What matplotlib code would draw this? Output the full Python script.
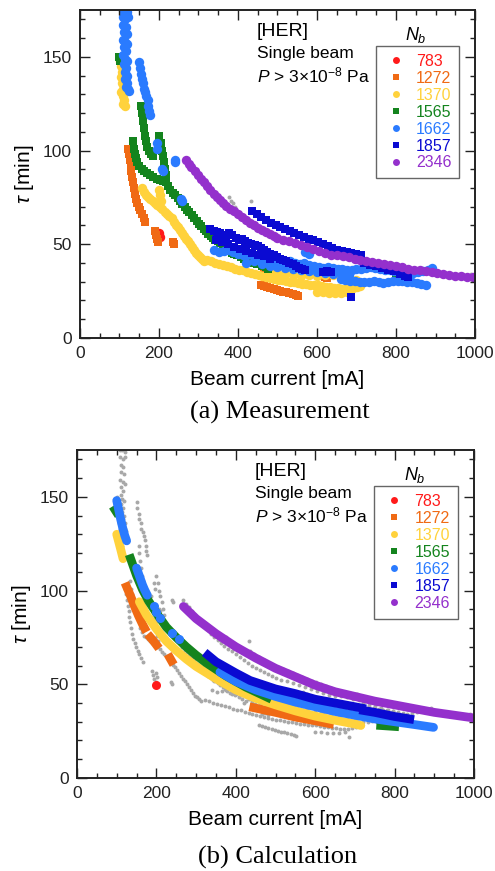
import numpy as np
import matplotlib.pyplot as plt
from matplotlib.lines import Line2D
from matplotlib.ticker import MultipleLocator

plt.rcParams['font.family'] = ['Liberation Sans', 'DejaVu Sans']
plt.rcParams['mathtext.fontset'] = 'custom'
plt.rcParams['mathtext.rm'] = 'Liberation Sans'
plt.rcParams['mathtext.it'] = 'Liberation Sans:italic'

bunches = ['783', '1272', '1370', '1565', '1662', '1857', '2346']
colors = ['#ff1a1a', '#f06a14', '#ffd23c', '#14841e', '#2a7bff', '#0a0ad2', '#9430cc']
markers = ['o', 's', 'o', 's', 'o', 's', 'o']

# measured lifetime (beam current [mA], tau [min])
meas_783 = [(200, 56), (202, 54)]
meas_1272 = [(122, 101), (124, 98), (126, 95), (128, 92), (130, 89), (132, 86), (134, 83), (136, 80),
             (139, 77), (142, 74), (145, 72), (149, 70), (153, 68), (157, 66), (161, 64), (165, 62),
             (190, 57), (192, 55), (195, 53), (198, 51), (236, 51), (238, 50),
             (458, 28), (466, 27.5), (474, 27), (482, 26.5), (490, 26), (498, 25.5), (506, 25), (514, 24.5),
             (522, 24.5), (530, 24), (538, 23.5), (546, 23), (552, 22.5),
             (466, 34), (474, 34.5), (482, 33.5), (572, 35), (580, 36), (612, 33), (620, 32.5), (626, 32)]
meas_1370 = [(102, 148), (104, 145), (106, 142), (103, 139), (107, 136), (109, 133), (104, 131), (110, 129),
             (112, 127), (108, 125), (113, 124),
             (158, 80), (163, 78), (168, 76), (173, 75), (178, 74), (184, 73), (190, 72), (196, 71), (202, 70),
             (208, 69), (214, 67), (220, 66), (226, 65), (232, 64), (238, 62), (243, 60.5), (248, 59), (253, 57.5),
             (258, 56), (263, 54.5), (268, 53), (273, 51.5), (278, 50), (283, 48.5), (288, 47), (293, 45.5),
             (298, 44), (303, 43), (308, 42), (313, 41), (200, 79), (202, 76), (204, 73),
             (322, 41.5), (332, 41), (342, 40), (352, 39.5), (362, 39), (372, 38.5), (382, 38), (392, 37),
             (402, 36.5), (412, 36), (422, 35), (432, 34.5), (442, 34), (452, 33.5), (462, 33), (472, 32.5),
             (482, 32), (492, 31.5), (502, 31), (512, 31), (522, 30.5), (532, 30), (542, 30), (552, 29.5),
             (562, 29), (572, 29), (582, 28.5), (592, 28), (602, 28), (612, 27.5), (622, 27), (632, 27),
             (642, 26.5), (652, 26.5), (662, 26), (672, 26), (682, 26), (692, 26.5), (702, 27), (710, 27.5),
             (480, 35), (500, 34.5), (520, 34), (540, 33.5), (560, 33), (580, 33.5), (600, 33), (620, 33.5),
             (640, 33.5), (660, 33), (680, 32), (700, 31),
             (600, 24.5), (615, 24.5), (630, 24), (645, 24), (660, 24), (675, 24.5)]
meas_1565 = [(100, 150), (102, 148),
             (155, 124), (157, 120), (159, 116), (161, 112), (164, 108), (167, 105), (170, 102), (175, 100),
             (181, 98), (186, 97),
             (200, 108), (204, 104), (207, 100), (210, 97), (213, 94), (216, 90), (219, 87),
             (133, 105), (136, 101), (138, 98), (141, 96), (145, 94), (150, 92), (156, 90), (163, 89), (170, 88),
             (178, 87), (186, 86), (194, 85), (202, 84), (210, 83.5), (218, 83), (224, 81),
             (229, 79), (235, 77.5), (241, 76), (247, 74.5), (253, 73), (259, 71.5), (265, 70), (271, 68.5),
             (277, 67), (283, 65.5), (289, 64), (295, 62.5), (301, 61), (307, 59.5), (313, 58), (319, 57),
             (325, 55.5), (331, 54.5), (337, 53.5), (343, 52.5), (349, 51.5), (355, 50.5), (361, 49.5),
             (367, 48.5), (373, 47.5), (379, 46.5), (385, 45.5), (391, 45), (397, 44.5),
             (408, 43), (416, 42), (425, 41), (433, 42), (440, 40), (448, 39.5), (456, 41), (462, 38.5),
             (470, 38), (476, 37), (420, 45), (445, 44), (800, 33), (805, 32.5)]
meas_1662 = [(108, 175), (114, 175), (120, 174), (109, 171), (115, 170), (121, 171), (110, 167), (117, 166),
             (112, 163), (118, 162), (109, 159), (115, 158), (120, 157), (111, 155), (117, 153), (110, 151),
             (114, 149), (119, 148), (111, 146), (117, 144), (113, 142), (119, 140), (115, 138), (120, 136),
             (116, 134), (121, 133), (123, 132),
             (150, 147), (152, 144), (155, 141), (157, 138), (160, 136), (162, 133), (165, 131), (168, 129),
             (171, 127), (173, 124), (175, 121), (176, 119),
             (194, 104), (196, 101), (207, 90), (210, 89), (240, 95), (241, 94), (255, 74), (257, 73),
             (340, 47), (352, 46), (364, 46.5), (376, 47), (388, 46), (400, 45), (412, 44.5), (424, 44),
             (436, 45), (448, 44), (460, 43), (472, 42.5), (484, 42), (496, 41.5), (508, 41), (520, 40.5),
             (532, 41), (544, 40), (556, 39.5), (568, 40), (580, 39), (592, 38.5), (604, 38), (616, 37.5),
             (628, 38), (640, 37.5), (652, 37), (664, 37), (676, 36.5), (688, 36), (700, 37), (712, 37),
             (724, 37.5), (736, 38), (748, 37.5), (760, 37), (772, 36.5), (784, 36), (796, 35.5), (808, 35),
             (820, 34.5), (832, 34), (844, 34.5), (856, 35), (868, 35.5), (880, 36.5), (892, 37.5),
             (420, 40), (440, 41), (460, 39.5), (480, 38.5), (500, 38), (520, 37.5), (540, 37), (560, 36),
             (580, 35.5), (600, 35), (620, 34.5), (640, 34), (660, 34), (680, 33.5),
             (660, 31.5), (672, 31), (684, 30.5), (696, 30.5), (708, 30), (720, 30), (732, 30), (744, 30.5),
             (756, 30), (768, 29.5), (780, 30), (792, 30.5), (804, 30.5), (816, 30.5), (828, 30), (840, 30),
             (852, 29.5), (864, 29), (876, 28.5), (570, 46), (580, 45)]
meas_1857 = [(435, 67.5), (447, 66), (459, 64.5), (471, 63), (483, 61.5), (495, 60), (507, 59), (519, 58),
             (531, 57), (543, 56), (555, 55), (567, 54), (579, 53), (591, 52), (603, 51), (615, 50), (627, 49),
             (639, 48), (651, 47), (663, 46.5), (675, 46), (687, 45.5), (699, 45), (711, 44),
             (330, 58), (338, 57), (346, 56.5), (354, 56), (362, 55), (370, 54.5), (378, 56), (386, 55),
             (394, 53.5), (402, 52.5), (410, 53), (418, 51.5), (426, 50.5), (434, 50), (442, 49.5), (450, 49),
             (458, 48), (466, 47), (474, 46), (482, 45), (490, 44), (498, 43), (506, 42), (514, 41.5),
             (522, 41), (530, 40), (538, 39.5), (546, 38.5), (554, 37.5), (562, 37), (570, 36),
             (345, 52), (360, 51), (375, 50), (390, 48.5), (405, 47.5), (420, 46.5), (435, 45.5), (450, 44.5),
             (465, 43.5), (480, 42),
             (615, 35), (625, 35.5), (635, 35), (686, 22), (720, 40), (735, 39), (750, 38.5), (765, 37.5),
             (780, 36.5), (795, 35.5), (810, 34), (822, 33), (830, 32.5)]
meas_2346 = [(268, 95), (275, 93), (282, 91), (290, 89), (298, 87), (306, 85), (314, 83), (322, 81), (330, 79),
             (338, 77), (346, 75), (354, 73.5), (362, 72), (370, 70.5), (380, 69), (390, 67.5), (400, 66),
             (410, 64.5), (420, 63), (430, 61.5), (440, 60), (450, 58.5), (460, 57.5), (470, 56.5), (480, 55.5),
             (490, 54.5), (500, 53.5), (515, 52.5), (530, 51.5), (545, 50.5), (560, 49.5), (575, 48.5),
             (590, 47.5), (605, 46.5), (620, 45.5), (635, 44.5), (650, 44), (665, 43.5), (680, 43), (695, 42),
             (710, 41.5), (725, 41), (740, 40.5), (755, 40), (770, 39.5), (785, 39), (800, 38.5), (815, 38),
             (830, 37), (845, 36.5), (860, 36), (875, 35.5), (890, 35), (905, 34.5), (920, 34), (935, 33.5),
             (950, 33), (965, 33), (980, 32.5), (995, 32.5)]
meas_other = [(376, 75), (382, 73), (388, 72), (392, 70), (432, 73), (700, 44), (705, 45), (820, 33),
              (880, 36), (990, 34)]

# calculated lifetime, one list of curve pieces per filling pattern
calc_783 = [[(198, 49.5)]]
calc_1272 = [[(125, 102), (135, 97), (145, 91.5), (155, 86.5), (165, 82), (170, 80)],
             [(185, 75), (193, 73), (200, 71)],
             [(234, 64), (238, 62.5)],
             [(445, 37.5), (500, 35), (550, 32.5), (600, 30.5), (636, 29)]]
calc_1370 = [[(100, 130), (105, 126), (110, 122), (116, 117)],
             [(157, 94), (175, 87), (200, 79.5), (225, 73), (250, 68), (275, 63.5), (300, 59.5), (350, 53),
              (400, 47), (450, 42.5), (500, 39), (550, 35.8), (600, 33), (650, 30.8), (700, 28.8), (715, 28)]]
calc_1565 = [[(96, 143), (99, 142)],
             [(135, 117), (150, 108), (165, 100.5), (180, 94.5), (200, 88), (225, 80.5), (250, 75), (275, 70),
              (300, 65.5), (325, 61.5), (350, 58), (375, 54.5), (400, 51.5), (425, 48.5), (450, 46), (480, 43)],
             [(765, 28), (800, 27.5)]]
calc_1662 = [[(100, 148), (105, 143), (110, 138), (115, 133.5), (120, 129.5), (125, 126.5)],
             [(150, 112), (155, 109), (160, 106), (165, 103), (170, 100.5), (177, 97.5)],
             [(193, 91.5)], [(200, 88.5)], [(210, 85.5)], [(238, 77.5)], [(257, 74)],
             [(360, 56.5), (400, 51.5), (450, 47), (500, 43.5), (550, 40.5), (600, 38), (650, 35.5),
              (700, 33.5), (750, 31.5), (800, 30), (850, 28.5), (898, 27)]]
calc_1857 = [[(330, 65.5), (350, 62), (400, 56), (436, 52), (500, 47.5), (550, 45), (600, 42), (650, 40),
              (700, 38), (717, 37.3)],
             [(722, 36), (750, 35), (800, 32.8), (838, 31.5)]]
calc_2346 = [[(268, 91.5), (300, 85), (350, 77), (400, 70), (450, 64), (500, 58.5), (550, 54), (600, 49.5),
              (650, 46), (700, 43.5), (750, 41), (800, 39), (850, 37), (900, 35), (950, 33.5), (1000, 32)]]

measured = [meas_783, meas_1272, meas_1370, meas_1565, meas_1662, meas_1857, meas_2346]
calculated = [calc_783, calc_1272, calc_1370, calc_1565, calc_1662, calc_1857, calc_2346]

fig = plt.figure(figsize=(4.95, 8.71), dpi=100)
ax1 = fig.add_axes([0.1616, 0.612, 0.798, 0.3766])
ax2 = fig.add_axes([0.1556, 0.1068, 0.802, 0.3766])

# (a) measurement
other = np.array(meas_other)
ax1.scatter(other[:, 0], other[:, 1], s=8, color='#a8a8a8', linewidths=0)
for data, c, m in zip(measured, colors, markers):
    d = np.array(data)
    ax1.scatter(d[:, 0], d[:, 1], s=46 if m == 'o' else 34, marker=m, color=c, linewidths=0)

# (b) calculation on top of the measured points in gray
allmeas = np.array([p for data in measured for p in data] + meas_other)
ax2.scatter(allmeas[:, 0], allmeas[:, 1], s=8, color='#a8a8a8', linewidths=0)
for pieces, c, m in zip(calculated, colors, markers):
    for piece in pieces:
        d = np.array(piece)
        if len(d) == 1:
            ax2.plot(d[:, 0], d[:, 1], ls='none', marker=m, ms=6.5, color=c, mew=0)
        else:
            ax2.plot(d[:, 0], d[:, 1], color=c, lw=6.3,
                     solid_capstyle='round' if m == 'o' else 'projecting')

for ax in [ax1, ax2]:
    ax.set_xlim(0, 1000)
    ax.set_ylim(0, 175)
    ax.xaxis.set_major_locator(MultipleLocator(200))
    ax.xaxis.set_minor_locator(MultipleLocator(50))
    ax.yaxis.set_major_locator(MultipleLocator(50))
    ax.yaxis.set_minor_locator(MultipleLocator(10))
    ax.tick_params(which='both', direction='in', top=True, right=True, width=1.0, colors='#222222')
    ax.tick_params(which='major', length=7, labelsize=12.5, pad=6)
    ax.tick_params(which='minor', length=3.5)
    for sp in ax.spines.values():
        sp.set_linewidth(1.4)
        sp.set_color('#222222')
    ax.set_xlabel('Beam current [mA]', fontsize=15, labelpad=6)
    ax.set_ylabel(r'$\tau$ [min]', fontsize=15, labelpad=5)

    ax.text(0.448, 0.933, '[HER]', transform=ax.transAxes, fontsize=14, va='center')
    ax.text(0.448, 0.866, 'Single beam', transform=ax.transAxes, fontsize=12.5, va='center')
    ax.text(0.448, 0.799, r'$P$ > 3×10$^{-8}$ Pa', transform=ax.transAxes, fontsize=12.5, va='center')
    ax.text(0.85, 0.925, r'$N_b$', transform=ax.transAxes, fontsize=13, ha='center', va='center')

    handles = [Line2D([], [], ls='none', marker=m, color=c, ms=5, mew=0) for c, m in zip(colors, markers)]
    leg = ax.legend(handles, bunches, loc='upper left', bbox_to_anchor=(0.749, 0.89), borderaxespad=0,
                    fontsize=11.5, fancybox=False, edgecolor='#666666', framealpha=1, borderpad=0.5,
                    handlelength=1.5, handletextpad=0.5, labelspacing=0.12)
    leg.get_frame().set_linewidth(1.0)
    for t, c in zip(leg.get_texts(), colors):
        t.set_color(c)

fig.text(0.566, 0.526, '(a) Measurement', fontsize=19, family='Liberation Serif', ha='center', va='center')
fig.text(0.561, 0.016, '(b) Calculation', fontsize=19, family='Liberation Serif', ha='center', va='center')

fig.savefig('out.png', dpi=100)
